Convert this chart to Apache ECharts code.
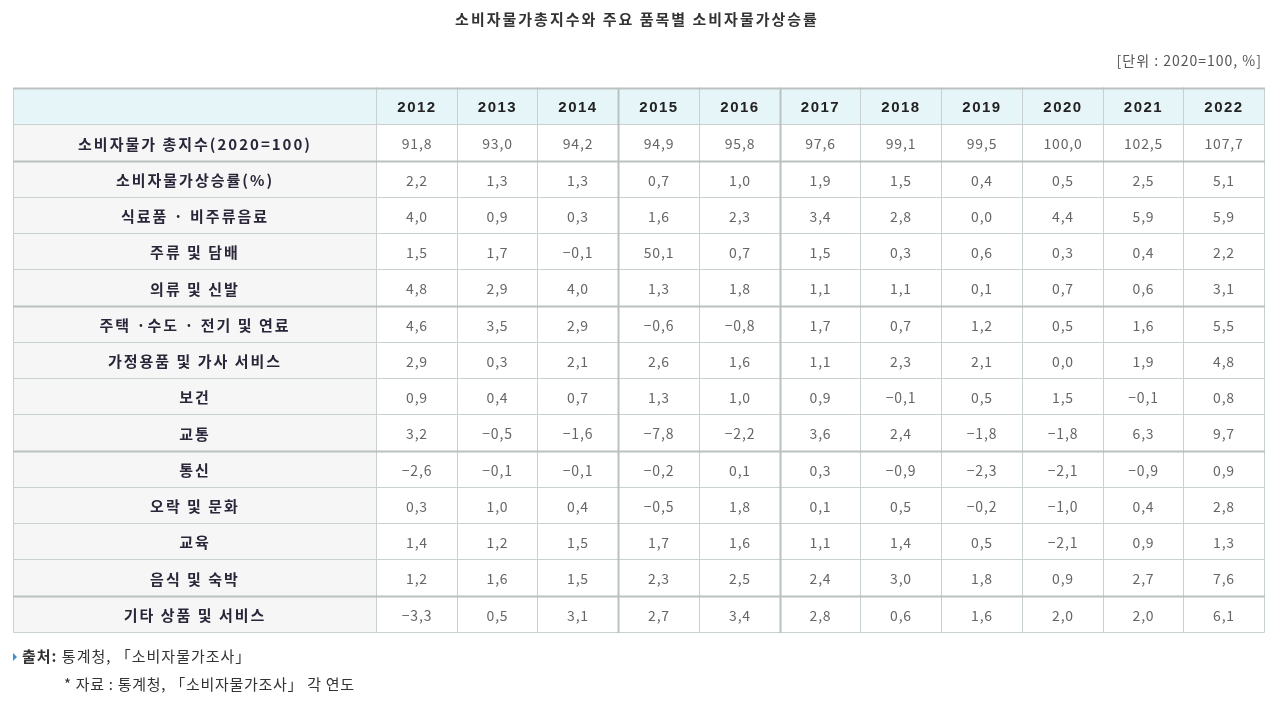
<!DOCTYPE html>
<html>
<head>
<meta charset="utf-8">
<script src="https://cdn.jsdelivr.net/npm/echarts@6/dist/echarts.min.js"></script>
<style>
html,body{margin:0;padding:0;background:#fff;}
#chart{width:1274px;height:701px;}
</style>
</head>
<body>
<div id="chart"></div>
<script>
// ---- data ----
const title = '소비자물가총지수와 주요 품목별 소비자물가상승률';
const unitText = '[단위 : 2020=100, %]';
const years = ['2012','2013','2014','2015','2016','2017','2018','2019','2020','2021','2022'];
const rowLabels = [
  '소비자물가 총지수(2020=100)',
  '소비자물가상승률(%)',
  '식료품 · 비주류음료',
  '주류 및 담배',
  '의류 및 신발',
  '주택 ·수도 · 전기 및 연료',
  '가정용품 및 가사 서비스',
  '보건',
  '교통',
  '통신',
  '오락 및 문화',
  '교육',
  '음식 및 숙박',
  '기타 상품 및 서비스'
];
const cpiIndex   = [91.8, 93.0, 94.2, 94.9, 95.8, 97.6, 99.1, 99.5, 100.0, 102.5, 107.7];
const cpiRate    = [2.2, 1.3, 1.3, 0.7, 1.0, 1.9, 1.5, 0.4, 0.5, 2.5, 5.1];
const food       = [4.0, 0.9, 0.3, 1.6, 2.3, 3.4, 2.8, 0.0, 4.4, 5.9, 5.9];
const alcohol    = [1.5, 1.7, -0.1, 50.1, 0.7, 1.5, 0.3, 0.6, 0.3, 0.4, 2.2];
const clothing   = [4.8, 2.9, 4.0, 1.3, 1.8, 1.1, 1.1, 0.1, 0.7, 0.6, 3.1];
const housing    = [4.6, 3.5, 2.9, -0.6, -0.8, 1.7, 0.7, 1.2, 0.5, 1.6, 5.5];
const household  = [2.9, 0.3, 2.1, 2.6, 1.6, 1.1, 2.3, 2.1, 0.0, 1.9, 4.8];
const health     = [0.9, 0.4, 0.7, 1.3, 1.0, 0.9, -0.1, 0.5, 1.5, -0.1, 0.8];
const transport  = [3.2, -0.5, -1.6, -7.8, -2.2, 3.6, 2.4, -1.8, -1.8, 6.3, 9.7];
const comm       = [-2.6, -0.1, -0.1, -0.2, 0.1, 0.3, -0.9, -2.3, -2.1, -0.9, 0.9];
const recreation = [0.3, 1.0, 0.4, -0.5, 1.8, 0.1, 0.5, -0.2, -1.0, 0.4, 2.8];
const education  = [1.4, 1.2, 1.5, 1.7, 1.6, 1.1, 1.4, 0.5, -2.1, 0.9, 1.3];
const restaurant = [1.2, 1.6, 1.5, 2.3, 2.5, 2.4, 3.0, 1.8, 0.9, 2.7, 7.6];
const otherGoods = [-3.3, 0.5, 3.1, 2.7, 3.4, 2.8, 0.6, 1.6, 2.0, 2.0, 6.1];
const sourceLabel = '출처:';
const sourceText = ' 통계청, 「소비자물가조사」';
const noteText = '* 자료 : 통계청, 「소비자물가조사」 각 연도';

const rowValues = [cpiIndex, cpiRate, food, alcohol, clothing, housing, household,
  health, transport, comm, recreation, education, restaurant, otherGoods];

// ---- letter-spacing shim: a fake trailing family "lsN" means N/10 px spacing ----
(function () {
  const P = CanvasRenderingContext2D.prototype;
  if (!('letterSpacing' in P)) return;
  function apply(ctx) {
    const m = /ls(\d+)/.exec(ctx.font || '');
    const v = m ? (parseInt(m[1], 10) / 10) + 'px' : '0px';
    if (ctx.letterSpacing !== v) ctx.letterSpacing = v;
  }
  const f = P.fillText, s = P.strokeText, mt = P.measureText;
  P.fillText = function () { apply(this); return f.apply(this, arguments); };
  P.strokeText = function () { apply(this); return s.apply(this, arguments); };
  P.measureText = function () { apply(this); return mt.apply(this, arguments); };
})();
const FONT_KR = '"Noto Sans CJK KR"';

// ---- table construction ----
const rowCats = ['header'].concat(rowLabels); // 15 rows
const thickBelowRows = [1, 5, 9, 13];
const thickRightCols = [2, 4];

function fmt(v) {
  return v.toFixed(1).replace('.', ',').replace('-', '−');
}

const labelCells = rowCats.map((r, i) => ({ col: 0, row: i, text: i === 0 ? '' : rowLabels[i - 1] }));
const dataCells = [];
rowCats.forEach((r, i) => {
  years.forEach((y, j) => {
    dataCells.push({ col: j, row: i, text: i === 0 ? y : fmt(rowValues[i - 1][j]) });
  });
});

const BORDER = '#c9d0d0';
const THICK = '#b9c1c1';

function makeRender(cells, isLabel) {
  return function (params, api) {
    const cell = cells[params.dataIndex];
    const c = api.coord([cell.col, cell.row]);
    const s = api.size([1, 1]);
    const x0 = Math.round(c[0] - s[0] / 2) + 0.5;
    const y0 = Math.round(c[1] - s[1] / 2) + 0.5;
    const x1 = Math.round(c[0] + s[0] / 2) + 0.5;
    const y1 = Math.round(c[1] + s[1] / 2) + 0.5;
    let fill = '#ffffff';
    if (cell.row === 0) fill = '#e6f6f8';
    else if (isLabel) fill = '#f6f6f6';
    const children = [{
      type: 'rect',
      shape: { x: x0, y: y0, width: x1 - x0, height: y1 - y0 },
      style: { fill: fill, stroke: BORDER, lineWidth: 1 }
    }];
    let font;
    let color;
    if (cell.row === 0) {
      font = { fontFamily: '"Liberation Sans", ls15', fontSize: 15, fontWeight: 'bold' };
      color = '#222';
    } else if (isLabel) {
      font = { fontFamily: FONT_KR + ', ls20', fontSize: 15, fontWeight: 'bold' };
      color = '#2a2538';
    } else {
      font = { fontFamily: FONT_KR + ', ls8', fontSize: 14, fontWeight: 'normal' };
      color = '#666666';
    }
    children.push({
      type: 'text',
      style: Object.assign({
        text: cell.text, x: (x0 + x1) / 2, y: (y0 + y1) / 2 + 1,
        align: 'center', verticalAlign: 'middle', fill: color
      }, font),
      z2: 5
    });
    if (thickBelowRows.indexOf(cell.row) >= 0) {
      children.push({
        type: 'line', shape: { x1: x0 - 0.5, y1: y1, x2: x1 + 0.5, y2: y1 },
        style: { stroke: THICK, lineWidth: 2 }, z2: 10
      });
    }
    if (cell.row === 0) {
      children.push({
        type: 'line', shape: { x1: x0 - 0.5, y1: y0, x2: x1 + 0.5, y2: y0 },
        style: { stroke: THICK, lineWidth: 2 }, z2: 10
      });
    }
    if (!isLabel && thickRightCols.indexOf(cell.col) >= 0) {
      children.push({
        type: 'line', shape: { x1: x1, y1: y0 - 0.5, x2: x1, y2: y1 + 0.5 },
        style: { stroke: THICK, lineWidth: 2 }, z2: 10
      });
    }
    return { type: 'group', children: children };
  };
}

const chart = echarts.init(document.getElementById('chart'), null, { renderer: 'canvas' });
chart.setOption({
  backgroundColor: '#ffffff',
  animation: false,
  title: {
    text: title, left: 'center', top: 6,
    textStyle: { fontFamily: FONT_KR + ', ls20', fontSize: 15, fontWeight: 'bold', color: '#333' }
  },
  grid: [
    { left: 13, top: 88, width: 363, height: 544 },
    { left: 376, top: 88, width: 888, height: 544 }
  ],
  xAxis: [
    { type: 'category', gridIndex: 0, data: ['구분'], show: false },
    { type: 'category', gridIndex: 1, data: years, show: false }
  ],
  yAxis: [
    { type: 'category', gridIndex: 0, data: rowCats, inverse: true, show: false },
    { type: 'category', gridIndex: 1, data: rowCats, inverse: true, show: false }
  ],
  graphic: [
    {
      type: 'text', right: 12, top: 53,
      style: { text: unitText, fontFamily: FONT_KR + ', ls10', fontSize: 14, fill: '#555' }
    },
    {
      type: 'polygon', shape: { points: [[13, 653], [17, 657], [13, 661]] },
      style: { fill: '#3d8fd1' }
    },
    {
      type: 'text', left: 22, top: 648,
      style: {
        text: '{b|' + sourceLabel + '}{n|' + sourceText + '}',
        rich: {
          b: { fontFamily: FONT_KR + ', ls10', fontSize: 15, fontWeight: 'bold', fill: '#333' },
          n: { fontFamily: FONT_KR + ', ls10', fontSize: 15, fill: '#333' }
        }
      }
    },
    {
      type: 'text', left: 64, top: 676,
      style: { text: noteText, fontFamily: FONT_KR + ', ls7', fontSize: 15, fill: '#333' }
    }
  ],
  series: [
    {
      type: 'custom', xAxisIndex: 0, yAxisIndex: 0,
      renderItem: makeRender(labelCells, true),
      data: labelCells.map(c => [c.col, c.row]),
      silent: true
    },
    {
      type: 'custom', xAxisIndex: 1, yAxisIndex: 1,
      renderItem: makeRender(dataCells, false),
      data: dataCells.map(c => [c.col, c.row]),
      silent: true
    }
  ]
});
</script>
</body>
</html>
